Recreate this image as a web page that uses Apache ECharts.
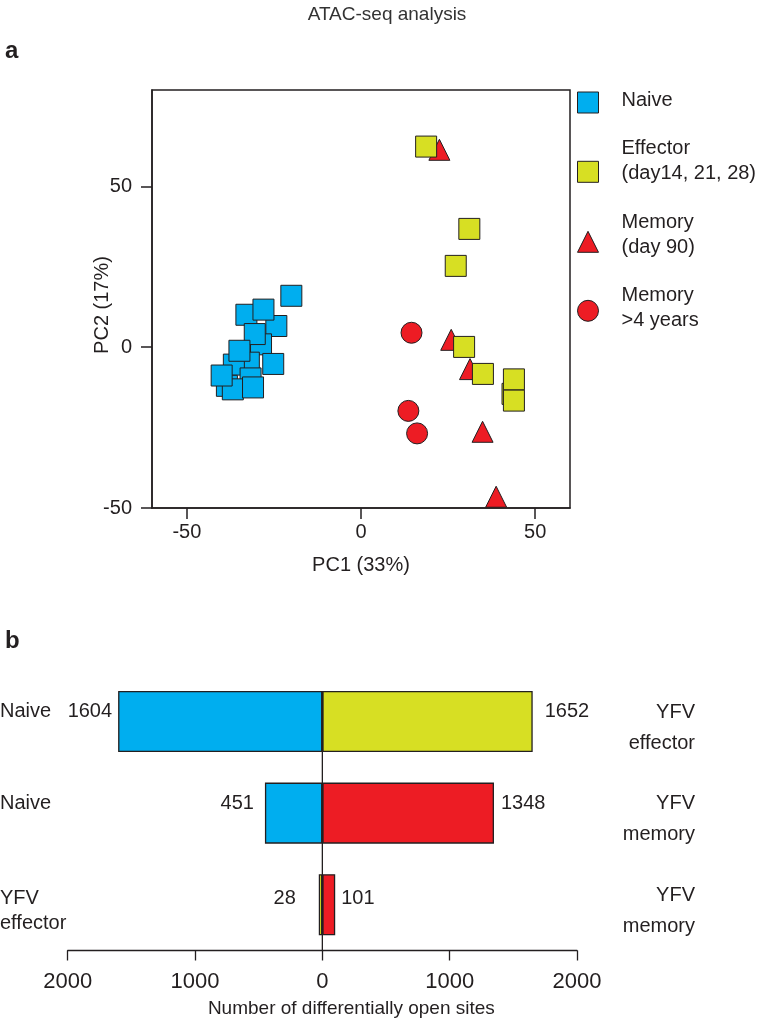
<!DOCTYPE html>
<html><head><meta charset="utf-8">
<script src="https://cdn.jsdelivr.net/npm/echarts@6/dist/echarts.min.js"></script>
<style>html,body{margin:0;padding:0;background:#fff}#c{width:757px;height:1020px}</style>
</head><body><div id="c"></div>
<script>
// ---------- Panel a: PCA of ATAC-seq profiles [PC1, PC2] ----------
const naivePoints = [
  [-20.0, 16.0], [-24.3, 6.6], [-32.9, 10.1], [-28.0, 11.7], [-28.7, 0.9], [-30.5, 4.1],
  [-25.2, -5.2], [-32.2, -4.8], [-36.5, -5.4], [-34.9, -1.1], [-31.7, -9.7], [-38.5, -12.0],
  [-36.8, -13.1], [-31.0, -12.5], [-40.0, -8.8]
];
const effectorPoints = [
  [18.7, 62.4], [31.1, 36.8], [27.2, 25.3], [29.6, 0.1], [35.0, -8.3],
  [43.5, -14.5], [43.9, -10.0], [43.9, -16.6]
];
const memoryDay90Points = [[22.5, 61.4], [25.9, 2.3], [31.3, -6.8], [34.9, -26.3], [38.8, -46.5]];
const memory4yPoints = [[14.5, 4.5], [13.6, -19.8], [16.1, -26.8]];
const pcaTicks = [-50, 0, 50];
const pc1Range = [-60, 60];
const pc2Range = [-50, 80];

// ---------- Panel b: differentially open sites ----------
const comparisons = ['Naive vs YFV effector', 'Naive vs YFV memory', 'YFV effector vs YFV memory'];
const leftGroups = ['Naive', 'Naive', 'YFV effector'];
const rightGroups = ['YFV effector', 'YFV memory', 'YFV memory'];
const leftSites = [1604, 451, 28];
const rightSites = [1652, 1348, 101];
const sitesRange = [-2000, 2000];
const sitesInterval = 1000;

// ---------- styles ----------
const FONT = "'Liberation Sans', Arial, Helvetica, sans-serif";
const INK = '#231f20';
const BLUE = '#00aeef', YELLOW = '#d7df23', RED = '#ed1c24';
const groupColor = { 'Naive': BLUE, 'YFV effector': YELLOW, 'YFV memory': RED };
const leftLabelGap = [6, 11, 23];
const rightLabelGap = [12, 7, 6];
const labelShift = [-10, -10, -6];
const barGapPct = 33.3;

const chart = echarts.init(document.getElementById('c'), null, { renderer: 'canvas' });

function legendFor(name, icon, top, lines, tail) {
  return {
    show: true, selectedMode: false, orient: 'vertical', left: 577, top: top, padding: 0,
    itemWidth: 21, itemHeight: 21, icon: icon,
    itemStyle: { borderColor: INK, borderWidth: 1 },
    data: [name],
    formatter: () => lines.map(l => '{a|' + l + '}').join('\n') + '\n{g| }',
    textStyle: {
      fontFamily: FONT, fontSize: 20, color: INK,
      rich: { a: { fontFamily: FONT, fontSize: 20, lineHeight: 25, color: INK, padding: [0, 0, 0, 18] },
              g: { fontSize: 10, lineHeight: tail } }
    }
  };
}

function leftCat(v, i) {
  const name = leftGroups[i];
  const parts = name.split(' ');
  if (parts.length === 1) return '{t|' + name + '}\n{n| }';
  return '{g|  }\n{t2|' + parts[0] + '}\n{t2|' + parts.slice(1).join(' ') + '}';
}
function rightCat(v, i) {
  const parts = rightGroups[i].split(' ');
  return '{g|  }\n{r|' + parts[0] + '}\n{r|' + parts.slice(1).join(' ') + '}';
}

const option = {
  animation: false,
  backgroundColor: '#fff',
  textStyle: { fontFamily: FONT },
  title: [
    { text: 'ATAC-seq analysis', left: 382, top: 0, textAlign: 'center',
      textStyle: { fontFamily: FONT, fontSize: 19, fontWeight: 'normal', color: '#333' } },
    { text: 'a', left: 0, top: 34, textStyle: { fontFamily: FONT, fontSize: 24, fontWeight: 'bold', color: INK } },
    { text: 'b', left: 0, top: 624, textStyle: { fontFamily: FONT, fontSize: 24, fontWeight: 'bold', color: INK } }
  ],
  legend: [
    legendFor('Naive', 'rect', 90, ['Naive'], 5),
    legendFor('Effector (day14, 21, 28)', 'rect', 138.3, ['Effector', '(day14, 21, 28)'], 22),
    legendFor('Memory (day 90)', 'triangle', 212.3, ['Memory', '(day 90)'], 14),
    legendFor('Memory >4 years', 'circle', 285.3, ['Memory', '>4 years'], 6)
  ],
  grid: [
    { left: 152, top: 90, width: 418, height: 418, show: true, borderColor: INK, borderWidth: 1.5,
      backgroundColor: 'transparent', outerBoundsMode: 'none', containLabel: false },
    { left: 67.7, top: 675.75, width: 509.3, height: 274.75, outerBoundsMode: 'none', containLabel: false }
  ],
  xAxis: [
    { gridIndex: 0, type: 'value', min: pc1Range[0], max: pc1Range[1],
      name: 'PC1 (33%)', nameLocation: 'middle', nameGap: 47, nameMoveOverlap: false,
      nameTextStyle: { fontFamily: FONT, fontSize: 20, color: INK },
      axisLine: { show: true, onZero: false, lineStyle: { color: INK, width: 1.5 } },
      axisTick: { show: true, length: 11, customValues: pcaTicks, lineStyle: { color: INK, width: 1.5 } },
      axisLabel: { customValues: pcaTicks, fontSize: 20, color: INK, margin: 14, fontFamily: FONT },
      splitLine: { show: false } },
    { gridIndex: 1, type: 'value', min: sitesRange[0], max: sitesRange[1], interval: sitesInterval,
      name: 'Number of differentially open sites', nameLocation: 'middle', nameGap: 49, nameMoveOverlap: false,
      nameTextStyle: { fontFamily: FONT, fontSize: 19, color: INK, padding: [0, 0, 0, 58] },
      axisLine: { show: true, onZero: false, lineStyle: { color: INK, width: 1.3 } },
      axisTick: { show: true, length: 10, lineStyle: { color: INK, width: 1.3 } },
      axisLabel: { fontSize: 22, color: INK, margin: 20, fontFamily: FONT, formatter: v => String(Math.abs(v)) },
      splitLine: { show: false } }
  ],
  yAxis: [
    { gridIndex: 0, type: 'value', min: pc2Range[0], max: pc2Range[1],
      name: 'PC2 (17%)', nameLocation: 'middle', nameGap: 40, nameMoveOverlap: false,
      nameTextStyle: { fontFamily: FONT, fontSize: 20, color: INK, padding: [0, 12, 0, 0] },
      axisLine: { show: true, onZero: false, lineStyle: { color: INK, width: 1.5 } },
      axisTick: { show: true, length: 11, customValues: pcaTicks, lineStyle: { color: INK, width: 1.5 } },
      axisLabel: { customValues: pcaTicks, fontSize: 20, color: INK, margin: 20, fontFamily: FONT },
      splitLine: { show: false } },
    { gridIndex: 1, type: 'category', data: comparisons, inverse: true, position: 'left',
      axisLine: { show: false, onZero: false }, axisTick: { show: false },
      axisLabel: { align: 'left', margin: 67.7, formatter: leftCat,
        rich: { t: { fontFamily: FONT, fontSize: 20, lineHeight: 20, color: INK },
                n: { fontSize: 10, lineHeight: 20 },
                g: { fontSize: 10, lineHeight: 12 },
                t2: { fontFamily: FONT, fontSize: 20, lineHeight: 25, color: INK } } } },
    { gridIndex: 1, type: 'category', data: comparisons, inverse: true, position: 'right',
      axisLine: { show: false, onZero: false }, axisTick: { show: false },
      axisLabel: { align: 'right', margin: 118, formatter: rightCat,
        rich: { g: { fontSize: 10, lineHeight: 12 },
                r: { fontFamily: FONT, fontSize: 20, lineHeight: 31, color: INK } } } },
    { gridIndex: 1, type: 'value', min: 0, max: comparisons.length, inverse: true, show: false }
  ],
  series: [
    { name: 'Naive', type: 'scatter', xAxisIndex: 0, yAxisIndex: 0, data: naivePoints,
      symbol: 'rect', symbolSize: 21, z: 2,
      itemStyle: { color: BLUE, borderColor: INK, borderWidth: 1, opacity: 1 } },
    { name: 'Memory (day 90)', type: 'scatter', xAxisIndex: 0, yAxisIndex: 0, data: memoryDay90Points,
      symbol: 'triangle', symbolSize: 21, z: 2,
      itemStyle: { color: RED, borderColor: INK, borderWidth: 1, opacity: 1 } },
    { name: 'Memory >4 years', type: 'scatter', xAxisIndex: 0, yAxisIndex: 0, data: memory4yPoints,
      symbol: 'circle', symbolSize: 21, z: 2,
      itemStyle: { color: RED, borderColor: INK, borderWidth: 1, opacity: 1 } },
    { name: 'Effector (day14, 21, 28)', type: 'scatter', xAxisIndex: 0, yAxisIndex: 0, data: effectorPoints,
      symbol: 'rect', symbolSize: 21, z: 3,
      itemStyle: { color: YELLOW, borderColor: INK, borderWidth: 1, opacity: 1 } },
    { name: 'left group', type: 'bar', xAxisIndex: 1, yAxisIndex: 1, stack: 'sites',
      barCategoryGap: barGapPct + '%',
      data: leftSites.map((v, i) => ({ value: -v, itemStyle: { color: groupColor[leftGroups[i]] },
        label: { distance: leftLabelGap[i], offset: [0, labelShift[i]] } })),
      itemStyle: { borderColor: INK, borderWidth: 1.3 },
      label: { show: true, position: 'left', fontFamily: FONT, fontSize: 20, color: INK,
        formatter: p => String(Math.abs(p.value)) } },
    { name: 'right group', type: 'bar', xAxisIndex: 1, yAxisIndex: 1, stack: 'sites',
      barCategoryGap: barGapPct + '%',
      data: rightSites.map((v, i) => ({ value: v, itemStyle: { color: groupColor[rightGroups[i]] },
        label: { distance: rightLabelGap[i], offset: [0, labelShift[i]] } })),
      itemStyle: { borderColor: INK, borderWidth: 1.3 },
      label: { show: true, position: 'right', fontFamily: FONT, fontSize: 20, color: INK,
        formatter: p => String(Math.abs(p.value)) } },
    { name: 'zero', type: 'line', xAxisIndex: 1, yAxisIndex: 3, symbol: 'none', silent: true, z: 3,
      data: [[0, barGapPct / 200], [0, comparisons.length]],
      lineStyle: { color: INK, width: 1.3 } }
  ]
};
chart.setOption(option);
</script>
</body></html>
